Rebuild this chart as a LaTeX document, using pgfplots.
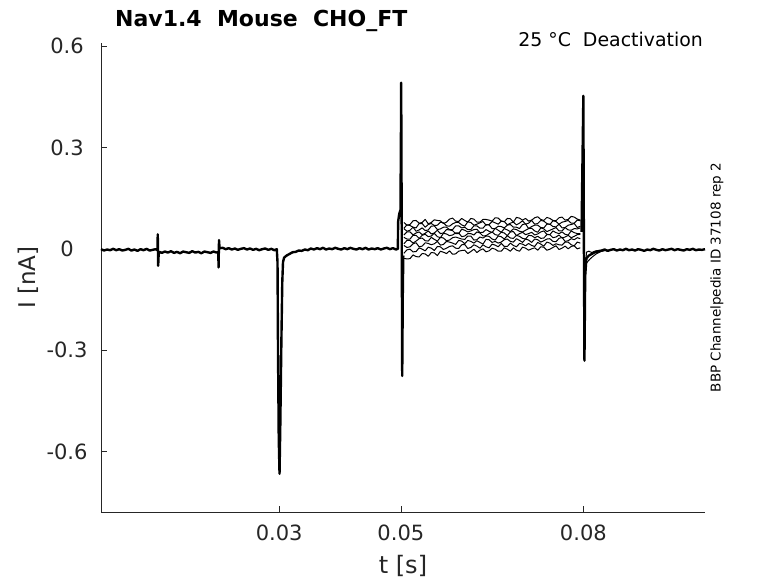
\documentclass[border=0pt]{standalone}
\usepackage{fontspec}
\setmainfont{DejaVu Sans}
\usepackage{pgfplots}
\usepackage{pgfplotstable}
\pgfplotsset{compat=1.18}
\definecolor{axgray}{RGB}{38,38,38}
\pgfplotstableread{
t k1 k2 k3 k4 k5 k6 k7 k8 k9
0.0505 0.078 0.061 0.060 0.041 0.034 0.015 0.010 -0.013 -0.028
0.0510 0.070 0.071 0.052 0.050 0.029 0.025 0.004 -0.003 -0.030
0.0515 0.072 0.069 0.055 0.050 0.029 0.025 0.006 -0.001 -0.029
0.0520 0.083 0.064 0.064 0.041 0.040 0.017 0.015 -0.009 -0.018
0.0525 0.084 0.062 0.052 0.047 0.040 0.023 0.018 -0.008 -0.023
0.0530 0.076 0.075 0.056 0.050 0.031 0.030 0.006 0.003 -0.024
0.0535 0.078 0.075 0.062 0.042 0.040 0.032 0.008 -0.001 -0.014
0.0540 0.087 0.064 0.054 0.046 0.043 0.024 0.018 -0.006 -0.015
0.0545 0.074 0.072 0.056 0.053 0.036 0.023 0.016 0.005 -0.022
0.0550 0.078 0.075 0.067 0.044 0.038 0.034 0.012 0.002 -0.011
0.0555 0.086 0.069 0.068 0.047 0.046 0.028 0.015 -0.005 -0.012
0.0560 0.084 0.070 0.057 0.055 0.036 0.023 0.022 0.007 -0.020
0.0565 0.083 0.079 0.059 0.045 0.033 0.034 0.011 0.006 -0.007
0.0570 0.075 0.077 0.064 0.047 0.046 0.032 0.013 -0.002 -0.010
0.0575 0.079 0.068 0.064 0.057 0.044 0.024 0.022 0.002 -0.014
0.0580 0.088 0.067 0.057 0.056 0.039 0.026 0.020 0.007 -0.006
0.0585 0.091 0.074 0.057 0.054 0.041 0.033 0.017 0.009 -0.016
0.0590 0.082 0.078 0.068 0.045 0.047 0.035 0.013 0.002 -0.015
0.0595 0.081 0.078 0.068 0.045 0.047 0.032 0.025 0.001 -0.007
0.0600 0.090 0.071 0.062 0.058 0.036 0.029 0.023 0.012 -0.005
0.0605 0.084 0.067 0.064 0.055 0.038 0.028 0.015 0.013 -0.004
0.0610 0.079 0.080 0.057 0.050 0.045 0.038 0.025 0.001 -0.014
0.0615 0.090 0.078 0.057 0.053 0.045 0.038 0.022 0.004 -0.008
0.0620 0.088 0.070 0.068 0.057 0.041 0.026 0.017 0.012 -0.001
0.0625 0.079 0.073 0.068 0.058 0.050 0.027 0.024 0.008 -0.011
0.0630 0.079 0.077 0.061 0.048 0.047 0.035 0.019 0.002 -0.004
0.0635 0.087 0.081 0.061 0.049 0.038 0.032 0.014 0.012 0.000
0.0640 0.087 0.070 0.072 0.057 0.039 0.038 0.028 0.006 -0.009
0.0645 0.085 0.072 0.071 0.052 0.045 0.037 0.027 0.003 -0.006
0.0650 0.082 0.081 0.060 0.048 0.050 0.029 0.019 0.014 0.002
0.0655 0.092 0.077 0.060 0.061 0.042 0.026 0.022 0.011 -0.001
0.0660 0.091 0.073 0.067 0.055 0.040 0.038 0.017 0.006 -0.007
0.0665 0.082 0.082 0.066 0.049 0.049 0.036 0.020 0.016 -0.007
0.0670 0.080 0.081 0.062 0.060 0.047 0.029 0.027 0.007 0.003
0.0675 0.090 0.071 0.070 0.056 0.039 0.039 0.029 0.007 -0.001
0.0680 0.089 0.076 0.072 0.051 0.050 0.032 0.022 0.017 -0.007
0.0685 0.079 0.079 0.064 0.059 0.051 0.031 0.020 0.010 0.003
0.0690 0.093 0.071 0.064 0.057 0.039 0.040 0.030 0.006 -0.004
0.0695 0.091 0.076 0.060 0.052 0.045 0.037 0.025 0.016 -0.007
0.0700 0.085 0.083 0.072 0.050 0.049 0.031 0.019 0.014 0.005
0.0705 0.090 0.073 0.074 0.055 0.042 0.029 0.029 0.009 0.002
0.0710 0.082 0.076 0.060 0.060 0.045 0.040 0.026 0.016 -0.004
0.0715 0.085 0.084 0.066 0.061 0.049 0.039 0.019 0.010 0.000
0.0720 0.092 0.073 0.070 0.053 0.041 0.033 0.029 0.007 0.003
0.0725 0.095 0.075 0.070 0.049 0.044 0.037 0.027 0.019 -0.004
0.0730 0.087 0.084 0.063 0.062 0.050 0.031 0.020 0.014 0.006
0.0735 0.084 0.082 0.062 0.059 0.053 0.032 0.024 0.008 0.005
0.0740 0.093 0.075 0.073 0.051 0.043 0.042 0.029 0.020 -0.004
0.0745 0.090 0.072 0.073 0.055 0.042 0.042 0.030 0.017 -0.001
0.0750 0.084 0.083 0.066 0.059 0.053 0.033 0.022 0.010 0.004
0.0755 0.083 0.081 0.065 0.063 0.048 0.035 0.021 0.015 0.009
0.0760 0.092 0.073 0.073 0.053 0.045 0.041 0.031 0.012 -0.002
0.0765 0.094 0.079 0.062 0.053 0.050 0.032 0.034 0.011 0.002
0.0770 0.085 0.081 0.063 0.063 0.043 0.035 0.022 0.020 0.008
0.0775 0.087 0.084 0.070 0.056 0.041 0.040 0.024 0.020 0.000
0.0780 0.096 0.076 0.072 0.055 0.053 0.033 0.030 0.012 0.007
0.0785 0.094 0.076 0.075 0.060 0.048 0.037 0.027 0.009 0.009
0.0790 0.088 0.085 0.063 0.059 0.045 0.042 0.033 0.020 0.000
0.0795 0.085 0.083 0.067 0.062 0.045 0.043 0.030 0.017 0.003
}\traces
\begin{document}
\begin{tikzpicture}[x=1pt,y=1pt]
\useasboundingbox (0,0) rectangle (778,583);
\begin{axis}[
  at={(101pt,70.7pt)}, anchor=south west,
  scale only axis, width=604pt, height=469.5pt,
  xmin=0.0007, xmax=0.1, ymin=-0.78, ymax=0.61,
  axis x line=bottom, axis y line=left,
  axis line style={-, draw=axgray, line width=0.6pt},
  xtick={0.03,0.05,0.08}, xticklabels={0.03,0.05,0.08},
  ytick={-0.6,-0.3,0,0.3,0.6}, yticklabels={-0.6,-0.3,0,0.3,0.6},
  tick align=inside, major tick length=6pt,
  tick style={draw=axgray, line width=0.6pt},
  ticklabel style={font=\fontsize{21}{25}\selectfont, text=axgray},
  yticklabel style={anchor=center, xshift=-34pt},
  xticklabel style={anchor=center, yshift=-21pt},
  clip=false,
  common/.style={black, line width=2.4pt, line join=round},
  trace/.style={black, line width=1.0pt, line join=round},
]
\addplot[common] coordinates {
(0.0007,-0.001)(0.0012,-0.005)(0.0017,-0.002)(0.0022,-0.004)(0.0027,0.000)(0.0032,-0.004)(0.0037,-0.001)(0.0042,-0.005)(0.0047,-0.003)(0.0052,0.000)(0.0057,-0.005)(0.0062,-0.002)(0.0067,-0.006)(0.0072,-0.001)(0.0077,-0.004)(0.0082,0.000)(0.0087,-0.005)(0.0092,-0.003)(0.0097,-0.001)
(0.00998,-0.004)(0.01003,0.043)(0.01010,-0.050)(0.01018,-0.016)(0.0103,-0.009)
(0.0107,-0.012)(0.0112,-0.008)(0.0117,-0.011)(0.0122,-0.007)(0.0127,-0.012)(0.0132,-0.009)(0.0137,-0.013)(0.0142,-0.008)(0.0147,-0.010)(0.0152,-0.012)(0.0157,-0.007)(0.0162,-0.011)(0.0167,-0.009)(0.0172,-0.013)(0.0177,-0.008)(0.0182,-0.010)(0.0187,-0.012)(0.0192,-0.008)(0.0197,-0.011)
(0.01998,-0.010)(0.02003,-0.055)(0.02010,0.026)(0.02018,0.005)(0.0203,0.002)
(0.0207,0.003)(0.0212,-0.001)(0.0217,0.002)(0.0222,-0.002)(0.0227,0.001)(0.0232,-0.003)(0.0237,0.000)(0.0242,0.002)(0.0247,-0.002)(0.0252,0.001)(0.0257,-0.003)(0.0262,0.000)(0.0267,-0.004)(0.0272,-0.001)(0.0277,0.001)(0.0282,-0.003)(0.0287,0.000)(0.0292,-0.004)(0.0296,-0.001)
(0.02972,-0.040)(0.02980,-0.300)(0.02992,-0.560)(0.03005,-0.666)(0.03018,-0.520)(0.03035,-0.280)(0.03050,-0.100)(0.03062,-0.040)(0.0308,-0.026)(0.0312,-0.020)(0.0317,-0.015)(0.0322,-0.010)(0.0327,-0.009)(0.0332,-0.005)(0.0337,-0.006)(0.0342,-0.002)(0.0347,-0.004)
(0.0352,0.001)(0.0357,-0.002)(0.0362,0.002)(0.0367,-0.001)(0.0372,0.003)(0.0377,-0.002)(0.0382,0.001)(0.0387,-0.001)(0.0392,0.003)(0.0397,0.000)(0.0402,-0.002)(0.0407,0.002)(0.0412,-0.001)(0.0417,0.003)(0.0422,0.000)(0.0427,-0.002)(0.0432,0.002)(0.0437,-0.001)(0.0442,0.003)(0.0447,-0.002)(0.0452,0.001)(0.0457,-0.001)(0.0462,0.002)(0.0467,-0.002)(0.0472,0.001)(0.0477,0.003)(0.0482,-0.001)(0.0487,0.002)(0.0492,-0.002)
(0.0495,0.000)(0.04955,0.080)(0.0497,0.100)(0.0498,0.108)(0.04993,0.115)(0.05000,0.300)(0.05005,0.492)(0.05013,0.100)(0.05022,-0.376)(0.05032,-0.120)(0.0504,-0.020)
};
\addplot[trace] table[x=t,y=k1] {\traces};
\addplot[trace] table[x=t,y=k2] {\traces};
\addplot[trace] table[x=t,y=k3] {\traces};
\addplot[trace] table[x=t,y=k4] {\traces};
\addplot[trace] table[x=t,y=k5] {\traces};
\addplot[trace] table[x=t,y=k6] {\traces};
\addplot[trace] table[x=t,y=k7] {\traces};
\addplot[trace] table[x=t,y=k8] {\traces};
\addplot[trace] table[x=t,y=k9] {\traces};
\addplot[common] coordinates {
(0.0797,0.050)(0.08000,0.453)(0.08008,0.050)(0.08018,-0.331)(0.08030,-0.080)(0.0805,-0.028)(0.0809,-0.020)(0.0813,-0.016)(0.0818,-0.011)(0.0824,-0.008)(0.0830,-0.005)(0.0835,-0.002)(0.0840,-0.006)(0.0845,-0.003)(0.0850,-0.001)(0.0855,-0.005)(0.0860,-0.002)(0.0865,-0.004)(0.0870,0.000)(0.0875,-0.004)(0.0880,-0.002)(0.0885,-0.005)(0.0890,-0.001)(0.0895,-0.003)(0.0900,-0.006)(0.0905,-0.002)(0.0910,-0.004)(0.0915,0.000)(0.0920,-0.003)(0.0925,-0.005)(0.0930,-0.001)(0.0935,-0.004)(0.0940,-0.002)(0.0945,0.000)(0.0950,-0.004)(0.0955,-0.001)(0.0960,-0.003)(0.0965,-0.005)(0.0970,-0.001)(0.0975,-0.003)(0.0980,0.000)(0.0985,-0.004)(0.0990,-0.002)(0.0995,-0.003)(0.1000,-0.001)
};
\addplot[trace] coordinates {(0.08025,-0.15)(0.0804,-0.045)(0.0807,-0.038)(0.0811,-0.030)(0.0816,-0.022)(0.0822,-0.014)(0.0829,-0.008)(0.0836,-0.005)};
\addplot[trace] coordinates {(0.08025,-0.10)(0.0805,-0.010)(0.0809,-0.007)(0.0814,-0.011)(0.0820,-0.006)(0.0828,-0.004)};
\end{axis}
\node[anchor=base west, inner sep=0pt, font=\fontsize{22}{26}\selectfont\bfseries] at (115,556.5) {Nav1.4\ \ Mouse\ \ CHO\_FT};
\node[anchor=base east, inner sep=0pt, font=\fontsize{18.9}{22}\selectfont] at (703,536.3) {25 °C\ \ Deactivation};
\node[rotate=90, inner sep=0pt, font=\fontsize{13.5}{16}\selectfont] at (717,305.5) {BBP Channelpedia ID 37108 rep 2};
\node[rotate=90, inner sep=0pt, font=\fontsize{23}{27}\selectfont, text=axgray] at (28,305.5) {I [nA]};
\node[inner sep=0pt, font=\fontsize{24}{28}\selectfont, text=axgray] at (403,17) {t [s]};
\end{tikzpicture}
\end{document}
